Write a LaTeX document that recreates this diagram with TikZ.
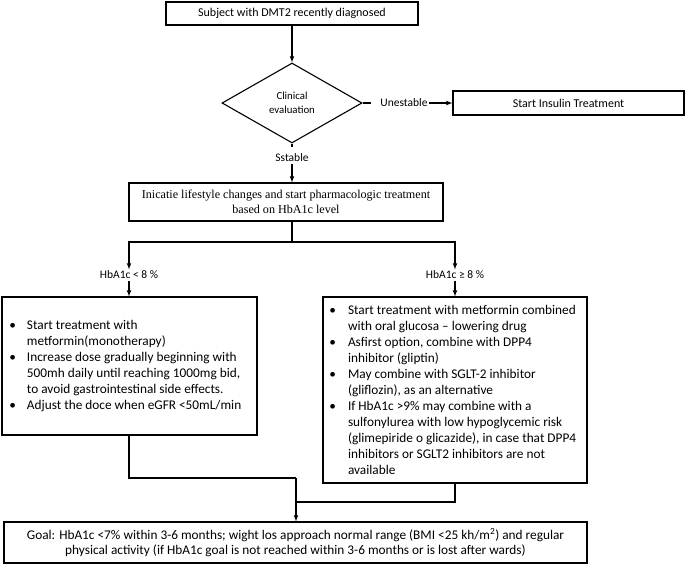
\documentclass[tikz,border=0pt]{standalone}
\usepackage{fontspec}
\setmainfont{Carlito}
\newfontfamily\serifrm{Liberation Serif}
\usepackage{enumitem}
\usetikzlibrary{arrows,shapes.geometric}

\begin{document}
\begin{tikzpicture}
  [x=1pt,y=-1pt,>=latex,line width=1.1pt,
   box/.style={draw,rectangle,inner sep=0pt,font=\fontsize{12}{15}\selectfont},
   listbox/.style={box,align=left,font=\fontsize{13.3}{16}\selectfont},
   lbl/.style={inner sep=1pt,font=\fontsize{11.5}{14}\selectfont},
   decide/.style={draw,diamond,inner sep=0pt,minimum width=140pt,minimum height=80pt,align=center,font=\fontsize{10.8}{13.5}\selectfont}]
  \useasboundingbox (0,0) rectangle (685,565);
  \node[box,minimum width=252pt,minimum height=23pt] (subj) at (292,13.5) {Subject with DMT2 recently diagnosed};
  \node[decide] (eval) at (292,103) {Clinical\\evaluation};
  \node[lbl] (unst) at (404,103) {Unestable};
  \node[box,minimum width=231pt,minimum height=24pt] (insulin) at (568.5,103) {Start Insulin Treatment};
  \node[lbl] (sst) at (292,158) {Sstable};
  \node[box,minimum width=314pt,minimum height=38pt,align=center,font=\serifrm\fontsize{12.1}{15.5}\selectfont] (life) at (286,202)
    {Inicatie lifestyle changes and start pharmacologic treatment\\based on HbA1c level};
  \node[lbl] (low) at (129,275) {HbA1c < 8 \%};
  \node[lbl] (high) at (455,275) {HbA1c ≥ 8 \%};
  \node[listbox,minimum width=255pt,minimum height=138pt] (mono) at (129.5,366) {%
    \begin{minipage}{250pt}
    \begin{itemize}[leftmargin=22.5pt,labelsep=11pt,itemsep=0pt,topsep=0pt,parsep=0pt,partopsep=0pt]
      \item Start treatment with\newline metformin(monotherapy)
      \item Increase dose gradually beginning with\newline 500mh daily until reaching 1000mg bid,\newline to avoid gastrointestinal side effects.
      \item Adjust the doce when eGFR <50mL/min
    \end{itemize}
    \end{minipage}};
  \node[listbox,minimum width=264pt,minimum height=186pt] (combo) at (455,390) {%
    \begin{minipage}{262pt}
    \begin{itemize}[leftmargin=24pt,labelsep=12pt,itemsep=0pt,topsep=0pt,parsep=0pt,partopsep=0pt]
      \item Start treatment with metformin combined\newline with oral glucosa -- lowering drug
      \item Asfirst option, combine with DPP4\newline inhibitor (gliptin)
      \item May combine with SGLT-2 inhibitor\newline (gliflozin), as an alternative
      \item If HbA1c >9\% may combine with a\newline sulfonylurea with low hypoglycemic risk\newline (glimepiride o glicazide), in case that DPP4\newline inhibitors or SGLT2 inhibitors are not\newline available
    \end{itemize}
    \end{minipage}};
  \node[box,minimum width=583pt,minimum height=41pt,align=center,font=\fontsize{13.3}{15.5}\selectfont] (goal) at (295.5,542.5)
    {Goal: HbA1c <7\% within 3-6 months; wight los approach normal range (BMI <25 kh/m\textsuperscript{2}) and regular\\physical activity (if HbA1c goal is not reached within 3-6 months or is lost after wards)};
  \coordinate (split) at (292,242);
  \coordinate (joinL) at (129,478);
  \coordinate (joinR) at (455,502);
  \coordinate (merge) at (296,478);
  \draw[->] (subj) -- (eval);
  \draw (eval.east) -- ++(8,0);
  \draw[->] (unst) -- (insulin);
  \draw (eval.south) -- ++(0,3);
  \draw[->] (sst) -- (sst |- life.north);
  \draw (split |- life.south) -- (split);
  \draw[->] (split) -| (low);
  \draw[->] (split) -| (high);
  \draw[->] (low) -- (low |- mono.north);
  \draw[->] (high) -- (combo);
  \draw (joinL |- mono.south) -- (joinL) -- (merge);
  \draw (combo) -- (joinR) -- (merge |- joinR);
  \draw[->] (merge) -- (merge |- goal.north);
\end{tikzpicture}
\end{document}
